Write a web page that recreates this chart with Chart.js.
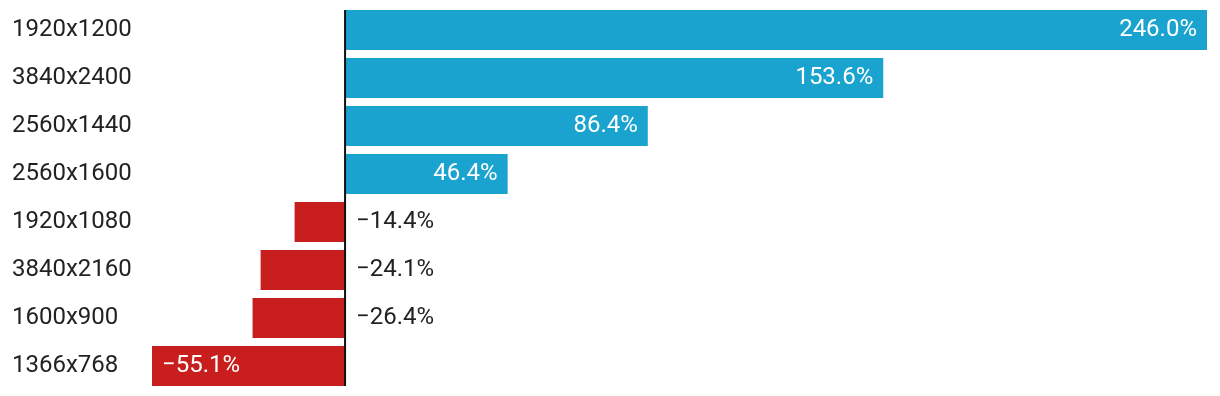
<!DOCTYPE html>
<html>
<head>
<meta charset="utf-8">
<script src="https://cdn.jsdelivr.net/npm/chart.js@4.4.1/dist/chart.umd.min.js"></script>
<style>
  html, body { margin: 0; padding: 0; background: #fff; }
  #wrap { width: 1220px; height: 396px; position: relative; }
</style>
</head>
<body>
<div id="wrap"><canvas id="chart"></canvas></div>
<script>
const resolutions = ["1920x1200", "3840x2400", "2560x1440", "2560x1600", "1920x1080", "3840x2160", "1600x900", "1366x768"];
const changePct = [246.0, 153.6, 86.4, 46.4, -14.4, -24.1, -26.4, -55.1];

const BLUE = "#1ba3cf";
const RED = "#c81e1e";
const TEXT = "#222222";
const FONT = "Roboto, 'Noto Sans', sans-serif";
const FONT_SIZE = 24;

const fmtPct = (v) => (v < 0 ? "\u2212" : "") + Math.abs(v).toFixed(1) + "%";

// zero line + value labels, positioned from the bar elements
const barLabels = {
  id: "barLabels",
  afterDatasetsDraw(chart) {
    const { ctx, scales } = chart;
    const bars = chart.getDatasetMeta(0).data;
    const x0 = scales.x.getPixelForValue(0);

    ctx.save();
    ctx.font = `${FONT_SIZE}px ${FONT}`;
    ctx.textBaseline = "middle";
    bars.forEach((bar, i) => {
      const v = changePct[i];
      const txt = fmtPct(v);
      const w = ctx.measureText(txt).width;
      const len = Math.abs(bar.x - bar.base);
      if (v >= 0) {
        ctx.fillStyle = "#fff";
        ctx.textAlign = "right";
        ctx.fillText(txt, bar.x - 10, bar.y);
      } else if (w + 20 <= len) {
        ctx.fillStyle = "#fff";
        ctx.textAlign = "left";
        ctx.fillText(txt, bar.x + 10, bar.y);
      } else {
        ctx.fillStyle = TEXT;
        ctx.textAlign = "left";
        ctx.fillText(txt, x0 + 11, bar.y);
      }
    });

    // zero axis line
    const top = bars[0].y - bars[0].height / 2;
    const last = bars[bars.length - 1];
    const bottom = last.y + last.height / 2;
    ctx.strokeStyle = "#111";
    ctx.lineWidth = 2;
    ctx.beginPath();
    ctx.moveTo(x0, top);
    ctx.lineTo(x0, bottom);
    ctx.stroke();
    ctx.restore();
  },
};

new Chart(document.getElementById("chart"), {
  type: "bar",
  data: {
    labels: resolutions,
    datasets: [{
      data: changePct,
      backgroundColor: changePct.map((v) => (v >= 0 ? BLUE : RED)),
      borderWidth: 0,
      barPercentage: 40 / 48,
      categoryPercentage: 1,
    }],
  },
  options: {
    indexAxis: "y",
    responsive: true,
    maintainAspectRatio: false,
    animation: false,
    layout: { padding: { left: 12, right: 13, top: 6, bottom: 6 } },
    plugins: { legend: { display: false }, tooltip: { enabled: false } },
    scales: {
      x: {
        display: false,
        min: Math.min(...changePct),
        max: Math.max(...changePct),
      },
      y: {
        grid: { display: false },
        border: { display: false },
        afterFit: (scale) => { scale.width = 140; },
        ticks: {
          crossAlign: "far",
          color: TEXT,
          font: { family: FONT, size: FONT_SIZE, lineHeight: 0.4 },
          padding: 0,
        },
      },
    },
  },
  plugins: [barLabels],
});
</script>
</body>
</html>
